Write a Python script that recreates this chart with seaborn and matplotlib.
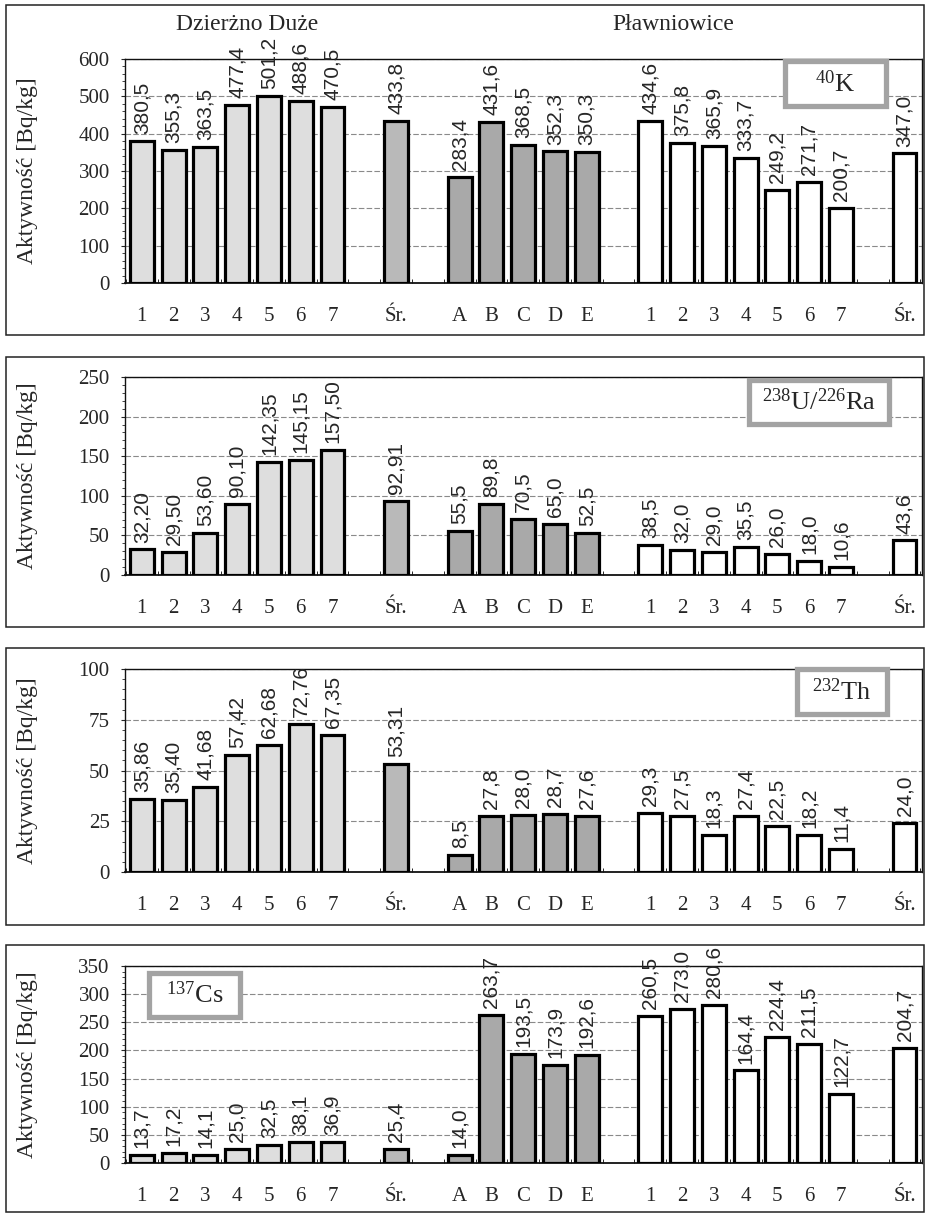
import numpy as np
import pandas as pd
import matplotlib
matplotlib.use("Agg")
import matplotlib.pyplot as plt
import seaborn as sns
from matplotlib.patches import Rectangle
from matplotlib.ticker import MultipleLocator

sns.set_style("white")
plt.rcParams["font.family"] = ["Liberation Serif", "DejaVu Serif"]
plt.rcParams["mathtext.fontset"] = "custom"
plt.rcParams["mathtext.rm"] = "Liberation Serif"
plt.rcParams["mathtext.it"] = "Liberation Serif:italic"

# ---- categories -------------------------------------------------------
site_titles = ["Dzierżno Duże", "Pławniowice"]
dz_points = ["1", "2", "3", "4", "5", "6", "7"]
pool_points = ["A", "B", "C", "D", "E"]
pl_points = ["1", "2", "3", "4", "5", "6", "7"]
mean_label = "Śr."
y_label = "Aktywność [Bq/kg]"

# ---- activity values [Bq/kg] -----------------------------------------
k40_dz = [380.5, 355.3, 363.5, 477.4, 501.2, 488.6, 470.5]
k40_dz_mean = 433.8
k40_pool = [283.4, 431.6, 368.5, 352.3, 350.3]
k40_pl = [434.6, 375.8, 365.9, 333.7, 249.2, 271.7, 200.7]
k40_pl_mean = 347.0

u238_dz = [32.20, 29.50, 53.60, 90.10, 142.35, 145.15, 157.50]
u238_dz_mean = 92.91
u238_pool = [55.5, 89.8, 70.5, 65.0, 52.5]
u238_pl = [38.5, 32.0, 29.0, 35.5, 26.0, 18.0, 10.6]
u238_pl_mean = 43.6

th232_dz = [35.86, 35.40, 41.68, 57.42, 62.68, 72.76, 67.35]
th232_dz_mean = 53.31
th232_pool = [8.5, 27.8, 28.0, 28.7, 27.6]
th232_pl = [29.3, 27.5, 18.3, 27.4, 22.5, 18.2, 11.4]
th232_pl_mean = 24.0

cs137_dz = [13.7, 17.2, 14.1, 25.0, 32.5, 38.1, 36.9]
cs137_dz_mean = 25.4
cs137_pool = [14.0, 263.7, 193.5, 173.9, 192.6]
cs137_pl = [260.5, 273.0, 280.6, 164.4, 224.4, 211.5, 122.7]
cs137_pl_mean = 204.7

# panel: isotope label, y max, y step, data, decimals at Dzierżno, label box (px)
panels = [
    (r"$^{40}$K", 600, 100, (k40_dz, k40_dz_mean, k40_pool, k40_pl, k40_pl_mean), 1,
     (785, 61, 886, 106)),
    (r"$^{238}$U/$^{226}$Ra", 250, 50, (u238_dz, u238_dz_mean, u238_pool, u238_pl, u238_pl_mean), 2,
     (749, 380, 889, 424)),
    (r"$^{232}$Th", 100, 25, (th232_dz, th232_dz_mean, th232_pool, th232_pl, th232_pl_mean), 2,
     (797, 669, 887, 714)),
    (r"$^{137}$Cs", 350, 50, (cs137_dz, cs137_dz_mean, cs137_pool, cs137_pl, cs137_pl_mean), 1,
     (149, 973, 240, 1017)),
]

kind_colors = {"dz": "#dedede", "dz_mean": "#b9b9b9", "pool": "#a9a9a9",
               "pl": "#ffffff", "pl_mean": "#ffffff"}

# slot layout: groups separated by one empty slot
group_labels = [dz_points, [mean_label], pool_points, pl_points, [mean_label]]
group_kinds = ["dz", "dz_mean", "pool", "pl", "pl_mean"]
positions, tick_labels, kinds = [], [], []
slot = 0
for labels, kind in zip(group_labels, group_kinds):
    for lab in labels:
        positions.append(slot)
        tick_labels.append(lab)
        kinds.append(kind)
        slot += 1
    slot += 1

W, H = 925, 1214
fig = plt.figure(figsize=(W / 100, H / 100), dpi=100)


def fx(x):
    return x / W


def fy(y):
    return 1 - y / H


# (frame top, frame bottom, axes top, axes bottom) in px
layout = [(5, 335, 59, 283), (357, 627, 377, 575), (648, 925, 669, 872), (945, 1212, 966, 1163)]
ax_left, ax_right = 125, 922

for (iso, ymax, ystep, data, dz_dec, box), (ft, fb, at, ab) in zip(panels, layout):
    dz_vals, dz_mean, pool_vals, pl_vals, pl_mean = data
    values = list(dz_vals) + [dz_mean] + list(pool_vals) + list(pl_vals) + [pl_mean]
    decimals = [dz_dec] * 8 + [1] * 13
    df = pd.DataFrame({"pos": positions, "value": values, "kind": kinds})

    fig.add_artist(Rectangle((fx(6), fy(fb)), fx(918), (fb - ft) / H, transform=fig.transFigure,
                             fill=False, edgecolor="#222222", linewidth=1.1))

    ax = fig.add_axes([fx(ax_left), fy(ab), (ax_right - ax_left) / W, (ab - at) / H])
    sns.barplot(data=df, x="pos", y="value", hue="kind", palette=kind_colors,
                native_scale=True, dodge=False, width=0.75, errorbar=None,
                edgecolor="black", linewidth=2.3, legend=False, ax=ax, zorder=3)

    for p, v, d in zip(positions, values, decimals):
        ax.annotate(f"{v:.{d}f}".replace(".", ","), (p, v), xytext=(0, 5),
                    textcoords="offset points", rotation=90, ha="center", va="bottom",
                    family="Liberation Sans", fontsize=15, zorder=4)

    ax.set_xlim(-0.53, 24.55)
    ax.set_ylim(0, ymax)
    ax.set_xticks(positions, labels=tick_labels)
    ax.set_xticks([p + 0.5 for p in range(-1, 25)], minor=True)
    ax.yaxis.set_major_locator(MultipleLocator(ystep))
    ax.yaxis.set_minor_locator(MultipleLocator(ystep / 5))
    ax.set_xlabel("")
    ax.set_ylabel("")
    ax.grid(axis="y", which="major", color="#8a8a8a", linestyle=(0, (5, 2)), linewidth=0.8, zorder=0)
    ax.grid(axis="x", visible=False)
    ax.set_axisbelow(True)
    ax.tick_params(axis="x", which="major", length=0, pad=17, labelsize=15)
    ax.tick_params(axis="x", which="minor", direction="in", length=3, width=0.7, bottom=True)
    ax.tick_params(axis="y", which="major", direction="out", length=3, width=0.8, pad=8, labelsize=15, left=True)
    ax.tick_params(axis="y", which="minor", direction="out", length=2, width=0.6, left=True)
    for s in ax.spines.values():
        s.set_color("#111111")
        s.set_linewidth(1.0)
    ax.spines["bottom"].set_linewidth(1.3)

    fig.text(fx(28), fy((at + ab) / 2), y_label, rotation=90, ha="center", va="center", fontsize=17)

    x0, y0, x1, y1 = box
    fig.add_artist(Rectangle((fx(x0), fy(y1)), (x1 - x0) / W, (y1 - y0) / H, transform=fig.transFigure,
                             facecolor="white", edgecolor="#a3a3a3", linewidth=3.8, zorder=5))
    fig.text(fx((x0 + x1) / 2), fy((y0 + y1) / 2), iso, ha="center", va="center", fontsize=19, zorder=6)

fig.text(fx(247), fy(25), site_titles[0], ha="center", va="center", fontsize=17)
fig.text(fx(673), fy(25), site_titles[1], ha="center", va="center", fontsize=17)

fig.savefig("out.png", dpi=100, facecolor="white")
